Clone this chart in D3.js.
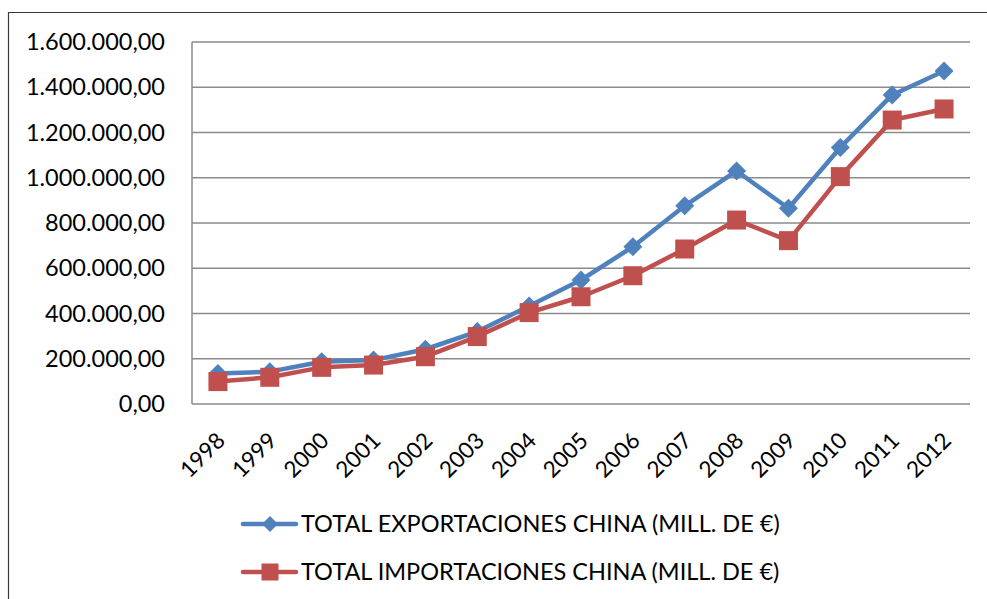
<!DOCTYPE html>
<html>
<head>
<meta charset="utf-8">
<script src="https://cdn.jsdelivr.net/npm/d3@7"></script>
<style>
  html, body { margin: 0; padding: 0; background: #fff; }
  svg { display: block; }
  text { font-family: "Lato", "Open Sans", sans-serif; fill: #000; }
</style>
</head>
<body>
<svg id="chart" width="987" height="599"></svg>
<script>
// Years on the category axis
const years = ["1998","1999","2000","2001","2002","2003","2004","2005","2006","2007","2008","2009","2010","2011","2012"];

// China's total exports and imports, millions of euros
const exportaciones = [135000, 143000, 187000, 194000, 242000, 320000, 433000, 548000, 695000, 876000, 1030000, 865000, 1134000, 1366000, 1472000];
const importaciones = [99000, 118000, 162000, 172000, 209000, 298000, 404000, 474000, 567000, 685000, 813000, 722000, 1005000, 1255000, 1304000];

// Value axis ticks
const yTicks = [0, 200000, 400000, 600000, 800000, 1000000, 1200000, 1400000, 1600000];

const seriesNames = ["TOTAL EXPORTACIONES CHINA (MILL. DE €)", "TOTAL IMPORTACIONES CHINA (MILL. DE €)"];

const svg = d3.select("#chart");
const W = 987, H = 599;
const plot = { left: 192, right: 970, top: 42, bottom: 404 };

const esLocale = d3.formatLocale({ decimal: ",", thousands: ".", grouping: [3], currency: ["", " €"] });
const fmt = esLocale.format(",.2f");

// Outer chart frame (left and top visible; right/bottom run off the page)
svg.append("path")
  .attr("d", `M8.5,${H + 2} L8.5,12.5 L${W + 2},12.5`)
  .attr("fill", "none")
  .attr("stroke", "#3a3a3a")
  .attr("stroke-width", 1.2);

const x = d3.scalePoint().domain(years).range([plot.left, plot.right]).padding(0.5);
const y = d3.scaleLinear().domain([0, 1600000]).range([plot.bottom, plot.top]);

// Horizontal gridlines
svg.append("g").selectAll("line")
  .data(yTicks)
  .join("line")
  .attr("x1", plot.left)
  .attr("x2", plot.right)
  .attr("y1", d => y(d))
  .attr("y2", d => y(d))
  .attr("stroke", "#8a8a8a")
  .attr("stroke-width", 1.5);

// Vertical value axis line
svg.append("line")
  .attr("x1", plot.left).attr("x2", plot.left)
  .attr("y1", plot.top).attr("y2", plot.bottom)
  .attr("stroke", "#8a8a8a").attr("stroke-width", 1.5);

// Y axis labels
const yAxis = d3.axisLeft(y).tickValues(yTicks).tickFormat(fmt).tickSize(0).tickPadding(27);
const gy = svg.append("g").attr("transform", `translate(${plot.left},0)`).call(yAxis);
gy.select(".domain").remove();
gy.selectAll("text")
  .attr("font-family", "Lato, 'Open Sans', sans-serif")
  .attr("font-size", 23.5)
  .attr("fill", "#000");

// X axis labels, rotated
const xAxis = d3.axisBottom(x).tickSize(0).tickPadding(0);
const gx = svg.append("g").attr("transform", `translate(0,${plot.bottom})`).call(xAxis);
gx.select(".domain").remove();
gx.selectAll("text")
  .attr("font-family", "Lato, 'Open Sans', sans-serif")
  .attr("font-size", 22.5)
  .attr("fill", "#000")
  .attr("text-anchor", "end")
  .attr("dy", null)
  .attr("y", 0)
  .attr("transform", "translate(8,38) rotate(-45)");

const colors = ["#4F81BD", "#C0504D"];
const dataSets = [exportaciones, importaciones];

const line = d3.line().x((d, i) => x(years[i])).y(d => y(d));

function marker(sel, kind, size) {
  const h = size / 2;
  if (kind === 0) {
    sel.attr("d", `M0,${-h} L${h},0 L0,${h} L${-h},0 Z`);
  } else {
    sel.attr("d", `M${-h},${-h} H${h} V${h} H${-h} Z`);
  }
}

dataSets.forEach((vals, k) => {
  const g = svg.append("g");
  g.append("path")
    .datum(vals)
    .attr("d", line)
    .attr("fill", "none")
    .attr("stroke", colors[k])
    .attr("stroke-width", 4.5)
    .attr("stroke-linejoin", "round");
  g.selectAll("path.m")
    .data(vals)
    .join("path")
    .attr("class", "m")
    .attr("transform", (d, i) => `translate(${x(years[i])},${y(d)})`)
    .call(marker, k, 19)
    .attr("fill", colors[k]);
});

// Legend
const legendY = [524, 572];
seriesNames.forEach((name, k) => {
  const g = svg.append("g").attr("transform", `translate(0,${legendY[k]})`);
  g.append("line")
    .attr("x1", 243).attr("x2", 296)
    .attr("y1", 0).attr("y2", 0)
    .attr("stroke", colors[k]).attr("stroke-width", 4.5)
    .attr("stroke-linecap", "round");
  g.append("path")
    .attr("transform", "translate(270,0)")
    .call(marker, k, k === 0 ? 16 : 17)
    .attr("fill", colors[k]);
  g.append("text")
    .attr("x", 301)
    .attr("y", 8)
    .attr("font-size", 23.5)
    .text(name);
});
</script>
</body>
</html>
